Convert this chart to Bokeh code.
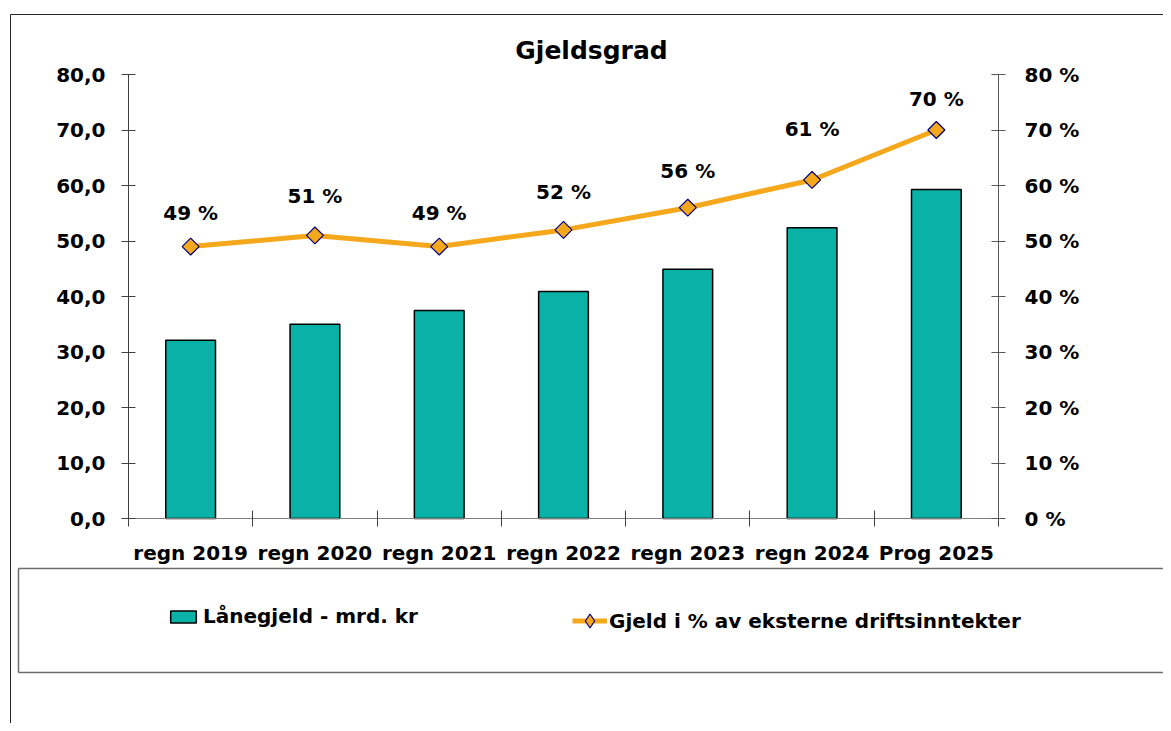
import math
from bokeh.plotting import figure
from bokeh.models import (Range1d, LinearAxis, FixedTicker, PrintfTickFormatter,
                          Legend, LegendItem, ColumnDataSource, Label)
from bokeh.core.properties import value
from bokeh.embed import file_html
from bokeh.resources import INLINE

# ---- data ----
categories = ["regn 2019", "regn 2020", "regn 2021", "regn 2022", "regn 2023", "regn 2024", "Prog 2025"]
laanegjeld = [32.1, 35.0, 37.5, 40.9, 44.9, 52.4, 59.3]
gjeld_pct = [49, 51, 49, 52, 56, 61, 70]
left_ticks = [0, 10, 20, 30, 40, 50, 60, 70, 80]
right_ticks = [0, 10, 20, 30, 40, 50, 60, 70, 80]
title_text = "Gjeldsgrad"
bar_label = "Lånegjeld - mrd. kr"
line_label = "Gjeld i % av eksterne driftsinntekter"

# ---- style / layout (pixels) ----
FONT = "DejaVu Sans"
BAR_COLOR = "#0AB1A6"
LINE_COLOR = "#F5A81C"
MARKER_LINE = "#000080"
W, H = 1163, 723
PLOT_L, PLOT_R, PLOT_B, PLOT_T = 128, 998, 518, 74
LABEL_DY = [-34, -39, -34, -38, -37, -51, -31]   # label offsets above points (px), as placed in the original

n = len(categories)
sx = (PLOT_R - PLOT_L) / n
sy = (PLOT_B - PLOT_T) / (left_ticks[-1] - left_ticks[0])
def px_to_x(px):
    return (px - PLOT_L) / sx
def px_to_y(py):
    return left_ticks[0] + (PLOT_B - py) / sy

xs = [i + 0.5 for i in range(n)]
src = ColumnDataSource(dict(x=xs, bar=laanegjeld, pct=gjeld_pct,
                            lbl=[f"{v} %" for v in gjeld_pct], dy=LABEL_DY))

p = figure(width=W, height=H, output_backend="svg", toolbar_location=None,
           x_range=Range1d(px_to_x(0), px_to_x(W)), y_range=Range1d(px_to_y(H), px_to_y(0)),
           min_border=0, x_axis_type=None, y_axis_type=None)
p.min_border_left = p.min_border_right = p.min_border_top = p.min_border_bottom = 0
p.outline_line_color = None
p.xgrid.visible = False
p.ygrid.visible = False
ps = (right_ticks[-1] - right_ticks[0]) / (left_ticks[-1] - left_ticks[0])
p.extra_y_ranges = {"pct": Range1d(right_ticks[0] + (px_to_y(H) - left_ticks[0]) * ps,
                                   right_ticks[0] + (px_to_y(0) - left_ticks[0]) * ps)}

# chart frame and legend frame (open to the right, as in the original crop)
def seg(x0, y0, x1, y1):
    return (px_to_x(x0), px_to_y(y0), px_to_x(x1), px_to_y(y1))
outer = [seg(10, 14, W + 5, 14), seg(10, 14, 10, H + 5)]
legbox = [seg(18, 568, W + 5, 568), seg(18, 672, W + 5, 672), seg(18, 568, 18, 672)]
p.segment(x0=[s[0] for s in outer], y0=[s[1] for s in outer],
          x1=[s[2] for s in outer], y1=[s[3] for s in outer],
          line_color="#262626", line_width=1, level="underlay")
p.segment(x0=[s[0] for s in legbox], y0=[s[1] for s in legbox],
          x1=[s[2] for s in legbox], y1=[s[3] for s in legbox],
          line_color="#6e6e6e", line_width=1.5, level="underlay")

# title
p.add_layout(Label(x=px_to_x(591), y=px_to_y(50), text=title_text, text_align="center",
                   text_baseline="middle", text_font=FONT, text_font_size="25px",
                   text_font_style="bold", text_color="black"))

# axes
def style_axis(ax):
    ax.major_label_text_font = FONT
    ax.major_label_text_font_size = "20px"
    ax.major_label_text_font_style = "bold"
    ax.major_label_text_color = "black"
    ax.axis_line_color = "#404040"
    ax.major_tick_line_color = "#404040"
    ax.major_tick_in = 7
    ax.major_tick_out = 7
    ax.minor_tick_line_color = None

yl = LinearAxis(ticker=FixedTicker(ticks=left_ticks), fixed_location=0,
                bounds=(left_ticks[0], left_ticks[-1]),
                major_label_overrides={t: f"{t:.1f}".replace(".", ",") for t in left_ticks})
style_axis(yl)
yl.major_label_standoff = 16
p.add_layout(yl, "left")

yr = LinearAxis(y_range_name="pct", ticker=FixedTicker(ticks=right_ticks), fixed_location=n,
                bounds=(right_ticks[0], right_ticks[-1]),
                formatter=PrintfTickFormatter(format="%d %%"))
style_axis(yr)
yr.axis_line_color = "#595959"
yr.major_tick_line_color = "#595959"
yr.major_label_standoff = 19
p.add_layout(yr, "right")

xa = LinearAxis(ticker=FixedTicker(ticks=xs, minor_ticks=list(range(n + 1))), fixed_location=0,
                bounds=(0, n),
                major_label_overrides={x: c for x, c in zip(xs, categories)})
style_axis(xa)
xa.axis_line_color = "#808080"
xa.major_tick_line_color = None
xa.minor_tick_line_color = "#404040"
xa.minor_tick_in = 8
xa.minor_tick_out = 8
xa.major_label_standoff = 14
p.add_layout(xa, "below")

# bars
bars = p.vbar(x="x", top="bar", bottom=0, width=0.4, source=src, fill_color=BAR_COLOR,
              line_color="black", line_width=1.5)

# line + markers (diamonds)
ln = p.line(x="x", y="pct", source=src, y_range_name="pct", line_color=LINE_COLOR,
            line_width=5, line_join="round")
mk = p.scatter(x="x", y="pct", source=src, y_range_name="pct", marker="square", size=12,
               angle=math.pi / 4, fill_color=LINE_COLOR, line_color=MARKER_LINE, line_width=1.2)
# legend glyph for the markers (legend glyphs are drawn unrotated); not drawn in the plot
mk_leg = p.scatter(x="x", y="pct", source=src, y_range_name="pct", marker="diamond",
                   fill_color=LINE_COLOR, line_color=MARKER_LINE, line_width=1.2, visible=False)

p.text(x="x", y="pct", text="lbl", source=src, y_range_name="pct", y_offset="dy",
       text_align="center", text_baseline="middle", text_font=value(FONT),
       text_font_size="20px", text_font_style="bold", text_color="black")

common = dict(orientation="horizontal", padding=0, margin=0, border_line_color=None,
              background_fill_alpha=0, label_text_font=FONT, label_text_font_size="20px",
              label_text_font_style="bold", label_text_color="black",
              inactive_fill_alpha=0)
leg1 = Legend(items=[LegendItem(label=bar_label, renderers=[bars])],
              location=(167, H - 628), glyph_width=32, glyph_height=15, label_height=15,
              label_standoff=4, **common)
leg2 = Legend(items=[LegendItem(label=line_label, renderers=[ln, mk_leg])],
              location=(572, H - 638), glyph_width=35, glyph_height=35, label_height=35,
              label_standoff=2, **common)
p.add_layout(leg1, "center")
p.add_layout(leg2, "center")

open("out.html", "w").write(file_html(p, INLINE))
